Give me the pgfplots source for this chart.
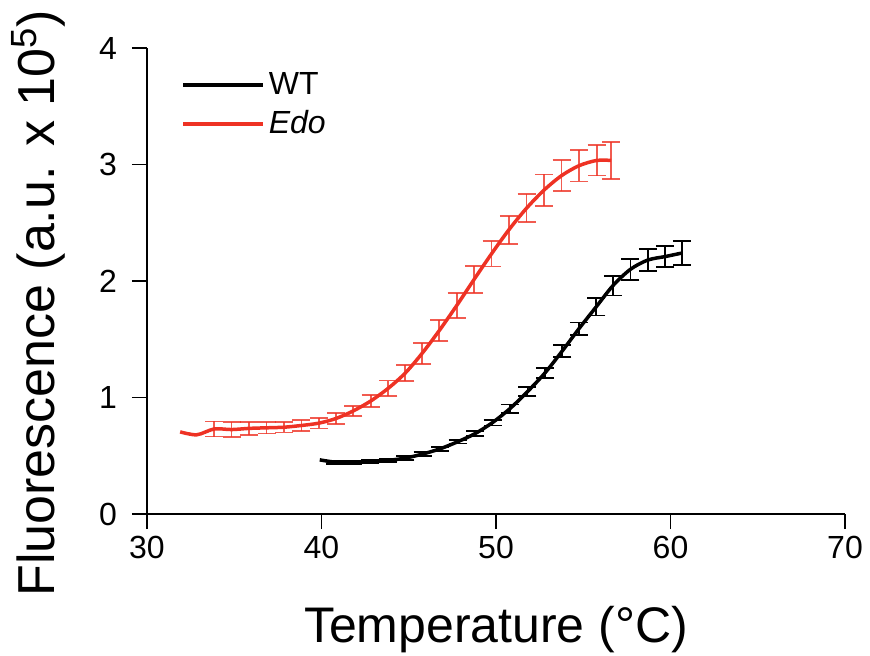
\documentclass[border=0pt]{standalone}
\usepackage{fontspec}
\setmainfont{Liberation Sans}
\usepackage{pgfplots}
\pgfplotsset{compat=1.18}
\usepackage{pgfplotstable}

\definecolor{edored}{RGB}{238,50,36}

% WT: temperature, fluorescence (x 10^5), error
\pgfplotstableread{
x y e
39.9 0.465 0
40.8 0.445 0.015
41.8 0.445 0.015
42.8 0.45 0.015
43.8 0.46 0.015
44.8 0.48 0.015
45.8 0.515 0.015
46.8 0.56 0.018
47.8 0.62 0.015
48.8 0.69 0.02
49.8 0.785 0.025
50.8 0.905 0.035
51.8 1.05 0.04
52.8 1.21 0.045
53.8 1.40 0.05
54.75 1.59 0.055
55.75 1.78 0.075
56.7 1.96 0.085
57.7 2.10 0.09
58.7 2.18 0.095
59.7 2.21 0.09
60.65 2.24 0.105
}\wt

% Edo
\pgfplotstableread{
x y e
31.9 0.705 0
32.85 0.68 0
33.85 0.73 0.065
34.85 0.725 0.065
35.85 0.735 0.055
36.85 0.74 0.05
37.85 0.745 0.045
38.85 0.76 0.045
39.85 0.78 0.045
40.83 0.82 0.045
41.82 0.885 0.045
42.82 0.97 0.05
43.83 1.08 0.065
44.8 1.21 0.07
45.77 1.38 0.09
46.75 1.575 0.09
47.75 1.79 0.11
48.75 2.015 0.115
49.75 2.235 0.11
50.74 2.44 0.12
51.75 2.625 0.12
52.75 2.78 0.135
53.76 2.905 0.135
54.76 2.99 0.135
55.77 3.035 0.13
56.6 3.035 0.16
}\edo

\begin{document}
\begin{tikzpicture}
\begin{axis}[name=ax,
  scale only axis, width=349pt, height=233pt,
  xmin=30, xmax=70, ymin=0, ymax=4,
  axis lines=left, axis line style={-, line width=0.9pt},
  xtick={30,40,...,70}, ytick={0,1,...,4},
  tick align=outside, major tick length=7.5pt,
  tick style={black, line width=0.9pt},
  /pgf/number format/assume math mode=true,
  tick label style={font=\fontsize{16}{19}\selectfont},
  yticklabel style={xshift=-4pt},
  xlabel={Temperature (°C)},
  ylabel={Fluorescence (a.u. x 10\textsuperscript{5})},
  xlabel style={font=\fontsize{25}{29}\selectfont, yshift=-17pt},
  ylabel style={font=\fontsize{26}{30}\selectfont, at={(ticklabel cs:0.452)}, yshift=10pt},
  legend style={draw=none, fill=none, at={(0.04,0.965)}, anchor=north west,
    font=\fontsize{16}{19}\selectfont, row sep=2.5pt},
  legend cell align=left,
  legend image code/.code={\draw[#1, line width=1.5pt] (0pt,0pt) -- (28.5pt,0pt); \path (0pt,0pt) -- (40pt,0pt);},
]
% error bars (first points carry none)
\addplot[draw=none, mark=none, forget plot, skip coords between index={0}{1},
  error bars/.cd, y dir=both, y explicit,
  error bar style={draw=black, line width=0.85pt},
  error mark options={rotate=90, mark size=4.5pt, draw=black, line width=0.85pt}]
  table[x=x, y=y, y error=e] {\wt};
\addplot[draw=none, mark=none, forget plot, skip coords between index={0}{2},
  error bars/.cd, y dir=both, y explicit,
  error bar style={draw=edored, draw opacity=0.8, line width=0.85pt},
  error mark options={rotate=90, mark size=4.5pt, draw=edored, draw opacity=0.8, line width=0.85pt}]
  table[x=x, y=y, y error=e] {\edo};
% curves
\addplot[black, line width=1.75pt, smooth, mark=none] table[x=x, y=y] {\wt};
\addlegendentry{WT}
\addplot[edored, line width=1.75pt, smooth, mark=none] table[x=x, y=y] {\edo};
\addlegendentry{\textit{Edo}}
\end{axis}
\pgfresetboundingbox
\path ([xshift=-73.5pt, yshift=-70.5pt]ax.south west) rectangle ([xshift=361.5pt, yshift=257pt]ax.south west);
\end{tikzpicture}
\end{document}
